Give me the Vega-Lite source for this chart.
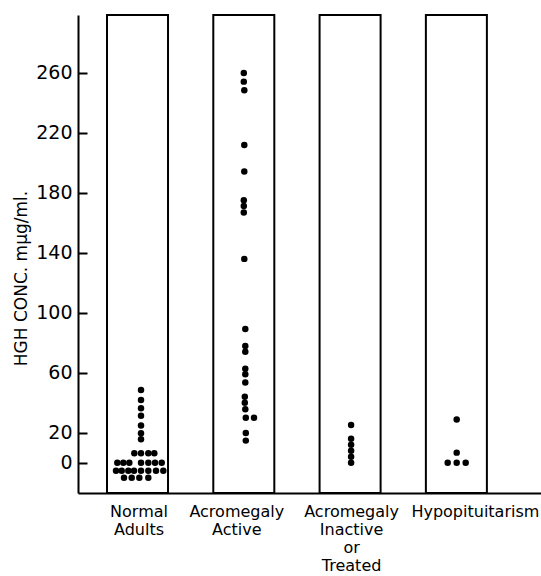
{
  "$schema": "https://vega.github.io/schema/vega-lite/v6.json",
  "autosize": "none",
  "padding": {"left": 78, "top": 15, "right": 0, "bottom": 83},
  "width": 463,
  "height": 478,
  "background": "white",
  "config": {"view": {"stroke": null}},
  "datasets": {
    "dots": [
      {"group": "Normal Adults", "value": 48.6, "dx": 3.5},
      {"group": "Normal Adults", "value": 42, "dx": 3.5},
      {"group": "Normal Adults", "value": 36.4, "dx": 3.5},
      {"group": "Normal Adults", "value": 31.5, "dx": 3.5},
      {"group": "Normal Adults", "value": 24.9, "dx": 3.5},
      {"group": "Normal Adults", "value": 19.8, "dx": 3.5},
      {"group": "Normal Adults", "value": 15.8, "dx": 3.5},
      {"group": "Normal Adults", "value": 6.5, "dx": -3.2},
      {"group": "Normal Adults", "value": 6.5, "dx": 3.5},
      {"group": "Normal Adults", "value": 6.5, "dx": 10.8},
      {"group": "Normal Adults", "value": 6.5, "dx": 16.8},
      {"group": "Normal Adults", "value": 0.2, "dx": -20.2},
      {"group": "Normal Adults", "value": 0.2, "dx": -14.2},
      {"group": "Normal Adults", "value": 0.2, "dx": -8.2},
      {"group": "Normal Adults", "value": 0.2, "dx": 3.5},
      {"group": "Normal Adults", "value": 0.2, "dx": 10.8},
      {"group": "Normal Adults", "value": 0.2, "dx": 17.5},
      {"group": "Normal Adults", "value": 0.2, "dx": 24.2},
      {"group": "Normal Adults", "value": -5.1, "dx": -21.5},
      {"group": "Normal Adults", "value": -5.1, "dx": -15.8},
      {"group": "Normal Adults", "value": -5.1, "dx": -9.2},
      {"group": "Normal Adults", "value": -5.1, "dx": -3.5},
      {"group": "Normal Adults", "value": -5.1, "dx": 3.5},
      {"group": "Normal Adults", "value": -5.1, "dx": 10.8},
      {"group": "Normal Adults", "value": -5.1, "dx": 18.5},
      {"group": "Normal Adults", "value": -5.1, "dx": 25.8},
      {"group": "Normal Adults", "value": -9.8, "dx": -13.5},
      {"group": "Normal Adults", "value": -9.8, "dx": -5.8},
      {"group": "Normal Adults", "value": -9.8, "dx": 1.8},
      {"group": "Normal Adults", "value": -9.8, "dx": 10.8},
      {"group": "Acromegaly Active", "value": 259.8, "dx": 0},
      {"group": "Acromegaly Active", "value": 254.1, "dx": 0},
      {"group": "Acromegaly Active", "value": 248.3, "dx": 0.5},
      {"group": "Acromegaly Active", "value": 211.9, "dx": 0.5},
      {"group": "Acromegaly Active", "value": 194.2, "dx": 0.5},
      {"group": "Acromegaly Active", "value": 175.1, "dx": 0},
      {"group": "Acromegaly Active", "value": 171.3, "dx": 0},
      {"group": "Acromegaly Active", "value": 166.9, "dx": 0},
      {"group": "Acromegaly Active", "value": 136.0, "dx": 0.5},
      {"group": "Acromegaly Active", "value": 89.2, "dx": 1.5},
      {"group": "Acromegaly Active", "value": 77.9, "dx": 1.5},
      {"group": "Acromegaly Active", "value": 74.1, "dx": 1.5},
      {"group": "Acromegaly Active", "value": 62.8, "dx": 1.5},
      {"group": "Acromegaly Active", "value": 59.1, "dx": 1.5},
      {"group": "Acromegaly Active", "value": 53.7, "dx": 1.5},
      {"group": "Acromegaly Active", "value": 44.2, "dx": 1},
      {"group": "Acromegaly Active", "value": 40.2, "dx": 1},
      {"group": "Acromegaly Active", "value": 35.8, "dx": 1.5},
      {"group": "Acromegaly Active", "value": 30.2, "dx": 2},
      {"group": "Acromegaly Active", "value": 30.2, "dx": 10.2},
      {"group": "Acromegaly Active", "value": 20.0, "dx": 2},
      {"group": "Acromegaly Active", "value": 14.9, "dx": 2},
      {"group": "Acromegaly Inactive or Treated", "value": 25.3, "dx": 1},
      {"group": "Acromegaly Inactive or Treated", "value": 16.2, "dx": 1},
      {"group": "Acromegaly Inactive or Treated", "value": 12.2, "dx": 1},
      {"group": "Acromegaly Inactive or Treated", "value": 8.2, "dx": 1},
      {"group": "Acromegaly Inactive or Treated", "value": 4.2, "dx": 1},
      {"group": "Acromegaly Inactive or Treated", "value": 0.2, "dx": 1},
      {"group": "Hypopituitarism", "value": 28.9, "dx": 0.3},
      {"group": "Hypopituitarism", "value": 6.9, "dx": 0.3},
      {"group": "Hypopituitarism", "value": 0.2, "dx": -8.7},
      {"group": "Hypopituitarism", "value": 0.2, "dx": 0.3},
      {"group": "Hypopituitarism", "value": 0.2, "dx": 9.3}
    ]
  },
  "data": {"name": "dots"},
  "encoding": {
    "x": {
      "field": "group",
      "type": "nominal",
      "sort": null,
      "scale": {
        "type": "band",
        "domain": ["Normal Adults", "Acromegaly Active", "Acromegaly Inactive or Treated", "Hypopituitarism"],
        "paddingInner": 0.426,
        "paddingOuter": 0.391,
        "align": 0.349
      },
      "axis": {
        "title": null,
        "domainColor": "black",
        "domainWidth": 2,
        "ticks": false,
        "labelAngle": 0,
        "labelAlign": "center",
        "labelBaseline": "top",
        "labelPadding": 10,
        "labelFont": "DejaVu Sans",
        "labelFontSize": 16,
        "labelColor": "black",
        "labelLineHeight": 18,
        "labelExpr": "split(datum.label, ' ')",
        "labelOffset": {
          "condition": [
            {"test": "datum.value === 'Hypopituitarism'", "value": 19},
            {"test": "datum.value === 'Acromegaly Active'", "value": -7}
          ],
          "value": 1.5
        }
      }
    }
  },
  "resolve": {"scale": {"xOffset": "independent"}},
  "layer": [
    {
      "transform": [{"aggregate": [{"op": "count", "as": "n"}], "groupby": ["group"]}],
      "mark": {"type": "rect", "fill": "white", "stroke": "black", "strokeWidth": 2, "width": {"band": 1}},
      "encoding": {
        "y": {
          "datum": -20,
          "type": "quantitative",
          "scale": {"domain": [-20, 298.5], "nice": false, "zero": false},
          "axis": {
            "title": "HGH CONC. mμg/ml.",
            "values": [0, 20, 60, 100, 140, 180, 220, 260],
            "grid": false,
            "domainColor": "black",
            "domainWidth": 2,
            "tickColor": "black",
            "tickWidth": 2,
            "tickSize": -9,
            "labelPadding": 15,
            "labelFont": "DejaVu Sans",
            "labelFontSize": 19,
            "labelColor": "black",
            "titleFont": "DejaVu Sans",
            "titleFontSize": 17,
            "titleFontWeight": "normal",
            "titleColor": "black",
            "titleAngle": -90,
            "titleAlign": "center",
            "titleBaseline": "middle",
            "titleX": -57,
            "titleY": 263
          }
        },
        "y2": {"datum": 298.5}
      }
    },
    {
      "mark": {"type": "circle", "color": "black", "opacity": 1, "size": 42},
      "encoding": {
        "y": {"field": "value", "type": "quantitative"},
        "xOffset": {"field": "dx", "type": "quantitative", "scale": {"domain": [-30.5, 30.5]}}
      }
    }
  ]
}
